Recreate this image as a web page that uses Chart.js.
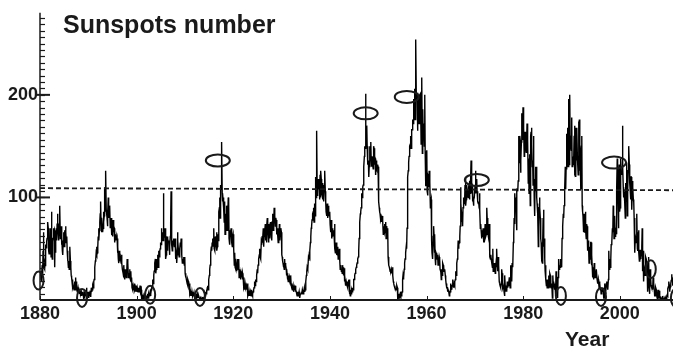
<!DOCTYPE html>
<html>
<head>
<meta charset="utf-8">
<script src="https://cdn.jsdelivr.net/npm/chart.js@4.4.1/dist/chart.umd.min.js"></script>
<style>
  html, body { margin: 0; padding: 0; background: #fff; }
  #wrap { position: relative; width: 673px; height: 352px; overflow: hidden; }
  .lbl { position: absolute; font-family: "Liberation Sans", Arial, sans-serif; font-weight: bold; color: #1a1a1a; white-space: nowrap; }
  #title { left: 63px; top: 12px; font-size: 25px; line-height: 25px; }
  #xname { left: 565px; top: 328px; font-size: 21px; line-height: 21px; }
</style>
</head>
<body>
<div id="wrap">
  <canvas id="chart" width="673" height="352"></canvas>
  <div class="lbl" id="title">Sunspots number</div>
  <div class="lbl" id="xname">Year</div>
</div>
<script>
// monthly sunspot numbers, one row per year
const firstYear = 1880;
const ssn1880s = [
  24,28,20,19,24,34,22,48,66,43,31,30,
  36,33,54,51,57,60,68,76,70,48,45,54,
  45,70,66,42,86,48,40,57,60,70,66,68,
  32,66,46,62,70,58,74,84,76,64,58,74,
  92,90,60,64,72,54,62,48,44,58,54,66,
  52,68,56,72,66,56,62,48,38,40,32,38,
  30,38,52,38,32,24,22,18,20,12,14,14,
  10,18,14,16,22,10,18,12,8,10,12,8,
  12,8,6,8,4,6,8,4,6,8,6,5,
  1,6,8,4,10,6,4,12,8,6,3,8
];
const ssn1890s = [
  4,2,6,4,6,3,4,12,8,10,12,14,
  12,18,20,24,32,38,40,46,52,44,46,52,
  62,70,58,68,76,84,96,78,66,80,74,66,
  70,86,76,82,110,92,86,126,88,84,80,72,
  84,100,80,90,82,92,70,70,80,72,64,64,
  62,78,66,72,70,56,64,60,58,62,58,60,
  46,52,40,36,48,44,40,42,38,36,44,36,
  30,28,26,22,34,22,20,30,24,26,22,28,
  40,28,36,22,26,24,30,22,20,28,18,22,
  12,16,10,14,12,10,16,10,12,8,14,12
];
const ssn1900s = [
  8,12,10,8,10,12,8,10,14,6,8,10,
  0,4,2,1,4,2,3,2,4,2,4,3,
  4,2,4,6,2,6,6,4,6,8,4,6,
  10,14,12,18,20,16,24,28,30,36,40,26,
  30,38,40,36,44,32,40,48,42,48,50,56,
  54,70,58,66,62,58,104,60,64,62,70,58,
  40,44,56,62,48,60,56,58,56,44,52,62,
  76,106,62,54,48,58,54,60,58,52,56,60,
  40,52,48,36,44,66,58,50,48,42,46,50,
  56,52,60,48,44,36,40,36,42,38,34,42
];
const ssn1910s = [
  26,22,24,20,18,16,14,20,18,16,14,16,
  6,8,4,6,4,8,6,4,6,5,7,4,
  2,4,6,4,2,4,6,2,4,3,4,2,
  2,1,0,2,1,0,2,3,1,2,1,2,
  3,6,4,8,6,10,8,12,14,10,14,20,
  24,30,34,40,46,52,48,56,60,52,58,70,
  50,58,48,62,56,54,66,48,52,64,58,70,
  86,90,100,80,112,108,120,154,104,96,98,100,
  90,76,96,64,84,78,70,92,68,72,76,100,
  96,60,58,54,68,64,70,60,56,52,62,64
];
const ssn1920s = [
  52,50,34,46,32,30,40,36,28,32,32,40,
  30,40,22,26,30,24,20,26,28,22,26,20,
  22,18,12,14,10,16,14,12,14,10,14,16,
  4,6,4,8,6,4,8,6,4,10,6,4,
  6,8,10,12,14,18,14,20,18,22,24,30,
  26,34,38,40,44,50,42,48,40,56,54,62,
  56,60,70,52,62,68,66,74,58,70,56,72,
  80,72,64,56,74,68,60,72,70,76,62,58,
  76,84,80,68,74,90,84,82,72,80,78,70,
  64,70,62,56,66,60,74,58,64,68,70,66
];
const ssn1930s = [
  44,42,38,36,32,34,30,40,32,36,34,30,
  24,26,20,22,18,24,20,18,22,20,24,16,
  14,12,10,12,14,10,8,12,10,14,8,10,
  8,6,4,6,8,4,6,8,4,2,6,6,
  6,8,6,10,8,6,10,8,12,8,10,12,
  18,24,28,32,34,30,40,38,44,42,48,56,
  62,70,72,78,80,84,86,90,76,82,94,82,
  120,100,110,165,102,104,118,112,108,114,98,122,
  100,126,118,102,110,98,114,104,96,112,108,126,
  106,96,86,90,82,94,80,88,92,84,82,86
];
const ssn1940s = [
  74,70,66,78,60,70,62,64,66,68,62,74,
  50,46,52,56,44,48,44,52,40,46,42,50,
  38,30,32,34,28,30,26,34,28,32,24,31,
  18,20,16,14,18,16,14,18,12,16,14,20,
  6,8,4,10,6,8,10,8,12,10,14,20,
  20,24,26,28,30,32,34,36,38,40,42,48,
  60,72,76,84,86,90,96,104,100,110,112,120,
  130,140,150,148,201,158,162,170,150,140,132,136,
  120,130,140,150,146,154,136,130,140,130,132,128,
  150,148,132,140,138,122,130,136,128,130,132,130
];
const ssn1950s = [
  100,96,90,86,84,82,78,80,76,82,76,77,
  64,72,70,74,66,68,76,60,70,72,62,70,
  42,36,34,32,30,28,30,28,30,26,30,32,
  24,18,16,14,12,14,10,12,10,12,14,12,
  0,2,4,6,2,4,6,4,8,4,6,8,
  20,24,20,22,30,36,40,44,46,52,50,70,
  100,120,126,134,140,144,150,152,160,148,160,166,
  166,176,172,186,196,180,206,176,196,254,200,196,
  202,165,191,196,175,172,191,200,201,182,152,188,
  217,143,186,163,172,169,150,200,145,111,124,125
];
const ssn1960s = [
  146,106,102,122,120,110,126,118,115,90,96,98,
  58,46,54,40,62,72,64,46,64,40,34,46,
  44,46,40,44,34,40,34,42,40,30,28,30,
  20,30,24,26,36,34,32,28,30,30,24,20,
  16,14,12,12,8,10,10,8,4,6,8,14,
  16,12,10,14,20,16,14,12,16,14,18,20,
  28,24,34,36,40,48,58,50,54,56,62,72,
  110,94,86,76,80,72,90,96,100,94,96,112,
  120,92,98,112,108,100,104,100,110,112,98,116,
  104,120,136,104,108,110,96,98,92,98,100,100
];
const ssn1970s = [
  112,126,104,110,118,106,100,96,94,96,90,104,
  88,70,74,68,60,62,62,66,70,56,68,56,
  56,74,68,62,64,90,80,70,66,62,62,74,
  44,42,40,44,40,36,36,32,50,28,36,28,
  34,36,26,32,36,32,50,34,28,42,30,34,
  18,16,14,12,12,16,30,26,14,12,14,12,
  8,4,24,12,8,14,10,8,18,12,14,18,
  16,22,18,12,30,34,22,18,36,32,32,56,
  64,80,74,104,88,100,86,68,108,108,106,116,
  160,146,134,160,156,124,136,154,182,176,156,188
];
const ssn1980s = [
  156,168,140,156,164,154,148,144,152,172,148,156,
  114,138,104,140,142,92,160,164,168,152,130,136,
  112,160,132,96,82,118,130,106,130,100,94,92,
  84,52,72,90,100,90,80,60,56,40,38,36,
  58,80,88,52,60,40,28,34,20,14,20,12,
  16,20,12,24,20,12,26,24,16,12,16,16,
  2,24,16,18,14,10,16,12,4,28,14,4,
  10,2,22,40,40,30,34,32,34,40,36,32,
  60,60,72,84,80,92,104,108,130,108,128,140,
  162,152,168,130,140,196,132,200,160,150,150,146
];
const ssn1990s = [
  178,130,140,140,132,140,160,170,124,126,120,168,
  136,168,140,140,122,174,170,176,126,144,108,144,
  150,160,92,86,82,66,76,84,70,66,86,68,
  60,74,72,60,48,58,50,36,52,50,40,56,
  56,34,44,32,22,28,20,26,36,28,22,26,
  24,30,30,20,20,16,20,16,12,18,16,10,
  12,6,8,8,10,8,12,4,2,2,16,10,
  6,8,16,18,16,12,10,20,48,30,34,40,
  32,40,54,54,56,70,66,92,80,60,80,82,
  62,66,68,64,106,138,114,94,70,116,132,86
];
const ssn2000s = [
  90,112,138,126,122,124,170,130,110,100,106,104,
  96,80,114,108,96,134,82,106,126,126,150,132,
  114,108,98,120,120,88,100,116,110,98,96,80,
  80,46,62,60,56,78,84,50,48,66,68,46,
  38,46,49,40,42,44,52,70,28,48,44,18,
  32,30,24,38,42,40,40,36,22,8,18,42,
  16,6,10,30,22,14,12,14,14,10,22,14,
  16,10,4,4,12,12,10,6,2,1,2,10,
  3,2,9,3,3,3,0,0,1,3,4,1,
  1,1,1,1,3,3,3,0,4,5,4,11,
  13,18,15,8,9,13,16,19,25,23,21,14
];

// dashed reference level
const levelYears = [1880, 2011];
const levelValues = [109, 107];

// ellipses marking minima ("min") and maxima ("max")
const markYears  = [1879.7, 1888.7, 1902.8, 1913.1, 1916.8, 1947.4, 1955.9, 1970.4, 1987.8, 1996.1, 1998.8, 2006.4, 2011.6];
const markValues = [19, 2, 5, 3, 136, 182, 198, 117, 4, 3, 134, 30, 2];
const markKinds  = ["min", "min", "min", "min", "max", "max", "max", "max", "min", "min", "max", "min", "min"];

const xTickYears = [1880, 1900, 1920, 1940, 1960, 1980, 2000];
const yTickValues = [100, 200];
const yMinorStep = 6.25;
const xMin = 1880, xMax = 2011, yMin = 0, yMax = 280;

const monthly = [].concat(ssn1880s, ssn1890s, ssn1900s, ssn1910s, ssn1920s, ssn1930s,
  ssn1940s, ssn1950s, ssn1960s, ssn1970s, ssn1980s, ssn1990s, ssn2000s);
const seriesPoints = monthly.map((v, i) => ({ x: firstYear + (i + 0.5) / 12, y: v }));
const levelPoints = levelYears.map((yr, i) => ({ x: yr, y: levelValues[i] }));

const ink = "#1a1a1a";
const ellipseSize = { min: [5, 9], max: [12, 6] };

const sketchAxes = {
  id: "sketchAxes",
  afterDatasetsDraw(chart) {
    const { ctx, chartArea: a, scales: { x, y } } = chart;
    ctx.save();
    ctx.strokeStyle = ink;

    // y axis with inner minor ticks
    ctx.lineWidth = 1.5;
    ctx.beginPath();
    ctx.moveTo(a.left, a.top);
    ctx.lineTo(a.left, a.bottom);
    ctx.stroke();
    ctx.lineWidth = 1.2;
    for (let v = yMin + yMinorStep; v < yMax; v += yMinorStep) {
      const py = Math.round(y.getPixelForValue(v)) + 0.5;
      ctx.beginPath();
      ctx.moveTo(a.left, py);
      ctx.lineTo(a.left + 5, py);
      ctx.stroke();
    }
    ctx.lineWidth = 2;
    yTickValues.forEach(v => {
      const py = y.getPixelForValue(v);
      ctx.beginPath();
      ctx.moveTo(a.left - 3, py);
      ctx.lineTo(a.left + 10, py);
      ctx.stroke();
    });

    // x axis baseline with small ticks
    ctx.lineWidth = 2;
    ctx.beginPath();
    ctx.moveTo(a.left, a.bottom);
    ctx.lineTo(chart.width, a.bottom);
    ctx.stroke();
    ctx.lineWidth = 1;
    xTickYears.forEach(yr => {
      const px = Math.round(x.getPixelForValue(yr)) + 0.5;
      ctx.beginPath();
      ctx.moveTo(px, a.bottom);
      ctx.lineTo(px, a.bottom - 4);
      ctx.stroke();
    });

    // ellipses
    ctx.lineWidth = 2;
    markYears.forEach((yr, i) => {
      const [rx, ry] = ellipseSize[markKinds[i]];
      ctx.beginPath();
      ctx.ellipse(x.getPixelForValue(yr), y.getPixelForValue(markValues[i]), rx, ry, 0, 0, Math.PI * 2);
      ctx.stroke();
    });
    ctx.restore();
  }
};

new Chart(document.getElementById("chart"), {
  type: "line",
  data: {
    datasets: [
      {
        label: "level",
        data: levelPoints,
        borderColor: ink,
        borderWidth: 1.8,
        borderDash: [5, 3],
        pointRadius: 0
      },
      {
        label: "Sunspots number",
        data: seriesPoints,
        borderColor: "#000",
        borderWidth: 1.4,
        pointRadius: 0,
        tension: 0
      }
    ]
  },
  options: {
    responsive: false,
    animation: false,
    events: [],
    layout: { padding: { top: 10, right: 0, left: 0, bottom: 0 } },
    plugins: {
      legend: { display: false },
      title: { display: false },
      tooltip: { enabled: false }
    },
    scales: {
      x: {
        type: "linear",
        min: xMin,
        max: xMax,
        grid: { display: false, drawTicks: false },
        border: { display: false },
        afterBuildTicks: (s) => { s.ticks = xTickYears.map(v => ({ value: v })); },
        afterFit: (s) => { s.height = 52; },
        ticks: {
          autoSkip: false,
          maxRotation: 0,
          padding: 3,
          color: ink,
          font: { family: "'Liberation Sans', Arial, sans-serif", size: 18, weight: "bold" },
          callback: (v) => String(v)
        }
      },
      y: {
        min: yMin,
        max: yMax,
        grid: { display: false, drawTicks: false },
        border: { display: false },
        afterBuildTicks: (s) => { s.ticks = yTickValues.map(v => ({ value: v })); },
        afterFit: (s) => { s.width = 40; },
        ticks: {
          padding: 2,
          color: ink,
          font: { family: "'Liberation Sans', Arial, sans-serif", size: 18, weight: "bold" }
        }
      }
    }
  },
  plugins: [sketchAxes]
});
</script>
</body>
</html>
